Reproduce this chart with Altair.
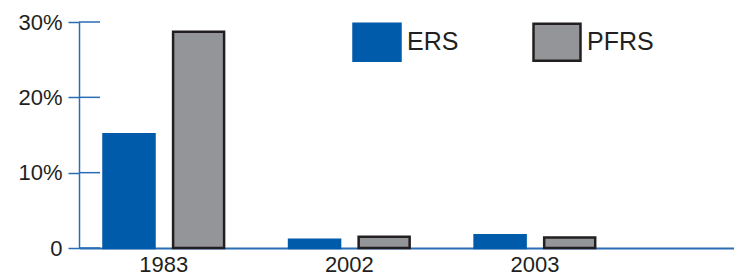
import altair as alt
import pandas as pd

years = ["1983", "2002", "2003"]
series = ["ERS", "PFRS"]
ers = [0.151, 0.011, 0.017]
pfrs = [0.287, 0.015, 0.014]
tick_values = [0.0, 0.1, 0.2, 0.3]

blue = "#005BAA"
gray = "#939598"
dark = "#231f20"
axis_blue = "#2a6db5"

rows = []
for i, y in enumerate(years):
    rows.append({"year": y, "series": "ERS", "value": ers[i]})
    rows.append({"year": y, "series": "PFRS", "value": pfrs[i]})
df = pd.DataFrame(rows)
tick_df = pd.DataFrame({"v": tick_values})

rect_path = "M-1.27,-1L1.27,-1L1.27,1L-1.27,1Z"

legend = alt.Legend(
    title=None, orient="none", legendX=278, legendY=0, direction="horizontal",
    symbolType=rect_path, symbolSize=1369, symbolStrokeWidth=2.5, symbolOpacity=1,
    labelFontSize=25, labelFont="Liberation Sans", labelColor=dark, labelOffset=10,
    columnPadding=69, padding=0,
)

y_axis = alt.Axis(title=None, values=tick_values, grid=False,
                  labelExpr="datum.value == 0 ? '0' : format(datum.value, '.0%')",
                  tickSize=11, tickColor=axis_blue, tickWidth=1.5,
                  domainColor=axis_blue, domainWidth=1.5,
                  labelFontSize=22, labelFont="Liberation Sans", labelColor=dark,
                  labelPadding=6)

bars = alt.Chart(df).mark_bar(strokeWidth=2.5).encode(
    x=alt.X("year:N", sort=years,
            scale=alt.Scale(paddingInner=0.35, paddingOuter=0.44, align=0.15),
            axis=alt.Axis(title=None, labelAngle=0, ticks=False, domainColor=axis_blue,
                          domainWidth=2, labelFontSize=22, labelFont="Liberation Sans",
                          labelColor=dark, labelPadding=6)),
    xOffset=alt.XOffset("series:N", sort=series,
                        scale=alt.Scale(paddingInner=0.267, paddingOuter=0)),
    y=alt.Y("value:Q", scale=alt.Scale(domain=[0, 0.3], nice=False), axis=y_axis),
    color=alt.Color("series:N", scale=alt.Scale(domain=series, range=[blue, gray]), legend=legend),
    stroke=alt.Stroke("series:N", scale=alt.Scale(domain=series, range=[blue, dark]), legend=legend),
)

inner_ticks = alt.Chart(tick_df).mark_rule(color=axis_blue, strokeWidth=1.5).encode(
    y=alt.Y("v:Q", scale=alt.Scale(domain=[0, 0.3], nice=False), axis=y_axis),
    x=alt.value(0),
    x2=alt.value(21),
)

chart = alt.layer(bars, inner_ticks).properties(
    width=655, height=226,
    autosize=alt.AutoSizeParams(type="none"),
    padding={"left": 71, "top": 14, "right": 0, "bottom": 28},
).configure_view(stroke=None)

chart.save("out.html", embed_options={"renderer": "svg", "actions": False})
